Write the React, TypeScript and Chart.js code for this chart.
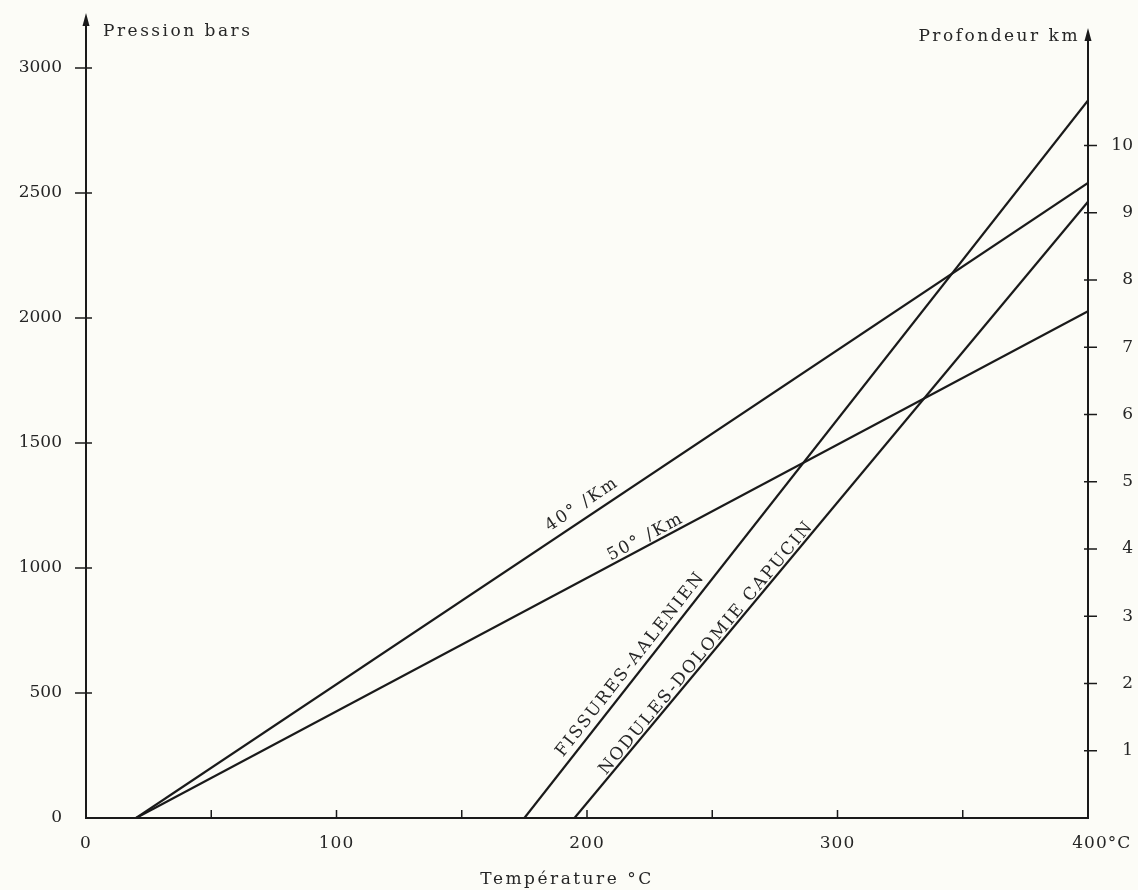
import React, { useEffect, useRef } from 'react';
import { Chart, registerables } from 'chart.js';

Chart.register(...registerables);

// ---- data ----
const gradient40T = [20, 400];
const gradient40P = [0, 2540];
const gradient50T = [20, 400];
const gradient50P = [0, 2027];
const fissuresT = [175, 400];
const fissuresP = [0, 2870];
const nodulesT = [195, 400];
const nodulesP = [0, 2465];

const lineLabels = ['40° /Km', '50° /Km', 'FISSURES-AALENIEN', 'NODULES-DOLOMIE CAPUCIN'];
const labelAnchorT = [201, 225, 221, 250];
const labelGap = [9, 4, 7, 3];

const temperatureLabelValues = [0, 100, 200, 300, 400];
const pressureMax = 3000;
const pressureStep = 500;
const temperatureStep = 50;
const depthTickValues = [1, 2, 3, 4, 5, 6, 7, 8, 9, 10];
const BARS_PER_KM = 269;

const FONT = '"DejaVu Serif", "Liberation Serif", serif';
const INK = '#1a1a1a';
const TEXT = '#262626';

const toPoints = (xs: number[], ys: number[]) => xs.map((x, i) => ({ x, y: ys[i] }));

const decorPlugin = {
  id: 'decor',
  beforeDraw(chart: any) {
    const { ctx, width, height } = chart;
    ctx.save();
    ctx.fillStyle = '#fcfcf7';
    ctx.fillRect(0, 0, width, height);
    ctx.restore();
  },
  afterDraw(chart: any) {
    const { ctx, chartArea } = chart;
    const xs = chart.scales.x;
    const ys = chart.scales.y;
    const y2 = chart.scales.y2;
    const L = chartArea.left;
    const R = chartArea.right;
    const B = chartArea.bottom;
    const T = chartArea.top;
    ctx.save();
    ctx.strokeStyle = INK;
    ctx.fillStyle = INK;
    ctx.lineWidth = 2;
    ctx.lineCap = 'butt';

    // axes
    const leftTip = T - 55;
    const rightTip = T - 40;
    ctx.beginPath();
    ctx.moveTo(L, B);
    ctx.lineTo(L, leftTip + 8);
    ctx.moveTo(L - 1, B);
    ctx.lineTo(R, B);
    ctx.lineTo(R, rightTip + 8);
    ctx.stroke();
    const arrow = (x: number, tip: number) => {
      ctx.beginPath();
      ctx.moveTo(x, tip);
      ctx.lineTo(x - 3.5, tip + 13);
      ctx.lineTo(x + 3.5, tip + 13);
      ctx.closePath();
      ctx.fill();
    };
    arrow(L, leftTip);
    arrow(R, rightTip);

    // tick marks
    ctx.lineWidth = 1.5;
    ctx.beginPath();
    ys.ticks.forEach((t: any) => {
      if (t.value === 0) return;
      const p = ys.getPixelForValue(t.value);
      ctx.moveTo(L - 11, p);
      ctx.lineTo(L + 6, p);
    });
    y2.ticks.forEach((t: any) => {
      const p = y2.getPixelForValue(t.value);
      ctx.moveTo(R - 4, p);
      ctx.lineTo(R + 9, p);
    });
    xs.ticks.forEach((t: any) => {
      if (t.value === 0 || t.value === 400) return;
      const p = xs.getPixelForValue(t.value);
      ctx.moveTo(p, B);
      ctx.lineTo(p, B - 8);
    });
    ctx.stroke();

    // x tick labels
    ctx.fillStyle = TEXT;
    ctx.font = `17px ${FONT}`;
    (ctx as any).letterSpacing = '1px';
    ctx.textBaseline = 'alphabetic';
    temperatureLabelValues.forEach((v) => {
      const p = xs.getPixelForValue(v);
      if (v === 400) {
        const w = ctx.measureText('400').width;
        ctx.textAlign = 'left';
        ctx.fillText('400°C', p - w / 2 + 2, B + 30);
      } else {
        ctx.textAlign = 'center';
        ctx.fillText(String(v), p, B + 30);
      }
    });

    // axis titles
    (ctx as any).letterSpacing = '2.5px';
    ctx.textAlign = 'left';
    ctx.fillText('Pression bars', L + 17, T - 32);
    ctx.textAlign = 'right';
    ctx.fillText('Profondeur km', R - 8, T - 27);
    ctx.textAlign = 'center';
    ctx.fillText('Température °C', (L + R) / 2 - 20, B + 66);

    // line labels
    (ctx as any).letterSpacing = '2px';
    chart.data.datasets.forEach((ds: any, i: number) => {
      const meta = chart.getDatasetMeta(i);
      const p0 = meta.data[0];
      const p1 = meta.data[meta.data.length - 1];
      const ang = Math.atan2(p1.y - p0.y, p1.x - p0.x);
      const ax = xs.getPixelForValue(labelAnchorT[i]);
      const frac = (ax - p0.x) / (p1.x - p0.x);
      const ay = p0.y + frac * (p1.y - p0.y);
      ctx.save();
      ctx.translate(ax, ay);
      ctx.rotate(ang);
      ctx.textAlign = 'center';
      ctx.textBaseline = 'alphabetic';
      ctx.fillText(lineLabels[i], 0, -labelGap[i]);
      ctx.restore();
    });
    ctx.restore();
  },
};

export default function App() {
  const ref = useRef<HTMLCanvasElement | null>(null);
  useEffect(() => {
    if (!ref.current) return;
    const lineStyle = {
      showLine: true,
      pointRadius: 0,
      borderColor: INK,
      borderWidth: 2.2,
      fill: false,
      yAxisID: 'y',
    };
    const chart = new Chart(ref.current, {
      type: 'scatter',
      data: {
        datasets: [
          { label: lineLabels[0], data: toPoints(gradient40T, gradient40P), ...lineStyle },
          { label: lineLabels[1], data: toPoints(gradient50T, gradient50P), ...lineStyle },
          { label: lineLabels[2], data: toPoints(fissuresT, fissuresP), ...lineStyle },
          { label: lineLabels[3], data: toPoints(nodulesT, nodulesP), ...lineStyle },
        ],
      },
      options: {
        responsive: false,
        animation: false,
        devicePixelRatio: 1,
        layout: { padding: { top: 68, left: 0, right: 5, bottom: 0 } },
        plugins: { legend: { display: false }, tooltip: { enabled: false } },
        scales: {
          x: {
            type: 'linear',
            min: 0,
            max: 400,
            ticks: { stepSize: temperatureStep, display: false },
            grid: { display: false, drawTicks: false },
            border: { display: false },
            afterFit: (s: any) => { s.height = 72; },
          },
          y: {
            type: 'linear',
            position: 'left',
            min: 0,
            max: pressureMax,
            ticks: {
              stepSize: pressureStep,
              padding: 24,
              color: TEXT,
              font: { family: FONT, size: 17 },
              callback: (v: any) => String(v),
            },
            grid: { display: false, drawTicks: false },
            border: { display: false },
            afterFit: (s: any) => { s.width = 86; },
          },
          y2: {
            type: 'linear',
            position: 'right',
            min: 0,
            max: pressureMax / BARS_PER_KM,
            afterBuildTicks: (s: any) => {
              s.ticks = depthTickValues.map((v) => ({ value: v }));
            },
            ticks: {
              padding: 19,
              crossAlign: 'far',
              color: TEXT,
              font: { family: FONT, size: 17 },
              callback: (v: any) => String(v),
            },
            grid: { display: false, drawTicks: false },
            border: { display: false },
            afterFit: (s: any) => { s.width = 45; },
          },
        },
      } as any,
      plugins: [decorPlugin],
    });
    return () => chart.destroy();
  }, []);
  return (
    <div style={{ position: 'absolute', left: 0, top: 0, width: 1138, height: 890 }}>
      <canvas ref={ref} width={1138} height={890} />
    </div>
  );
}
